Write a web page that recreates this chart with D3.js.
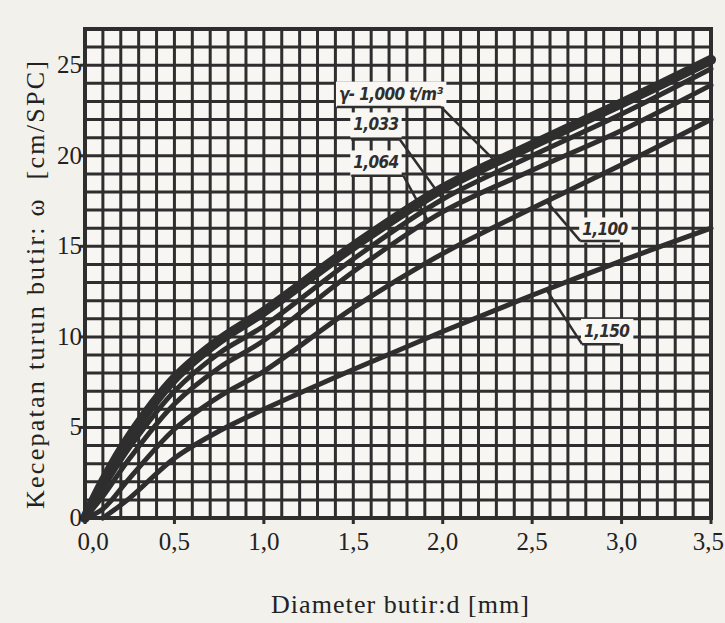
<!DOCTYPE html>
<html>
<head>
<meta charset="utf-8">
<script src="https://cdn.jsdelivr.net/npm/d3@7"></script>
<style>
  html, body { margin: 0; padding: 0; background: #f2f1ec; }
  svg { display: block; }
</style>
</head>
<body>
<svg id="chart" width="725" height="623"></svg>
<script>
// diameter (mm) where the curves were read
const diam = [0, 0.1, 0.25, 0.5, 0.75, 1.0, 1.5, 2.0, 2.5, 3.0, 3.5];

// settling velocity (cm/s) for each specific weight
const w1000 = [0, 2.0, 4.5, 7.7, 9.8, 11.4, 15.0, 18.2, 20.6, 22.9, 25.3];
const w1033 = [0, 1.6, 3.9, 7.0, 9.1, 10.6, 14.3, 17.6, 20.0, 22.3, 24.8];
const w1064 = [0, 1.2, 3.3, 6.3, 8.3, 9.8, 13.6, 16.9, 19.2, 21.4, 23.9];
const w1100 = [0, 0.5, 2.2, 4.9, 6.7, 8.1, 11.6, 14.6, 17.1, 19.5, 22.0];
const w1150 = [null, 0, 1.1, 3.3, 4.8, 6.0, 8.2, 10.3, 12.3, 14.2, 16.0];

const curveNames = ["γ- 1,000 t/m³", "1,033", "1,064", "1,100", "1,150"];
const xTicks = [0, 0.5, 1, 1.5, 2, 2.5, 3, 3.5];
const xTickLabels = ["0,0", "0,5", "1,0", "1,5", "2,0", "2,5", "3,0", "3,5"];
const yTicks = [0, 5, 10, 15, 20, 25];

const series = [w1000, w1033, w1064, w1100, w1150];
const widths = [10, 5, 5, 5, 5];

// where the label boxes sit (in data units) and where the leader hits the curve
const notes = [
  { text: curveNames[0], d: 1.42, v: 23.1, lineV: 22.7, lineEnd: 1.99, hit: 2.30 },
  { text: curveNames[1], d: 1.50, v: 21.4, lineV: 20.9, lineEnd: 1.76, hit: 2.00 },
  { text: curveNames[2], d: 1.50, v: 19.3, lineV: 18.9, lineEnd: 1.78, hit: 1.92 },
  { text: curveNames[3], d: 2.78, v: 15.6, lineV: 15.3, lineEnd: 2.99, hit: 2.58, left: true },
  { text: curveNames[4], d: 2.79, v: 10.0, lineV: 9.6, lineEnd: 2.99, hit: 2.58, left: true }
];

const svg = d3.select("#chart");
const x = d3.scaleLinear().domain([0, 3.5]).range([85, 711]);
const y = d3.scaleLinear().domain([0, 27]).range([518, 29]);
const ink = "#2e2e2e";

svg.append("rect")
  .attr("x", x(0)).attr("y", y(27))
  .attr("width", x(3.5) - x(0)).attr("height", y(0) - y(27))
  .attr("fill", "#f7f6f2");

// grid: 0.1 mm by 1 cm/s
const gx = d3.range(0, 36).map(i => i / 10);
const gy = d3.range(0, 28);
const grid = svg.append("g").attr("stroke", ink).attr("stroke-width", 3);
grid.selectAll(".gv").data(gx).enter().append("line")
  .attr("x1", d => x(d)).attr("x2", d => x(d))
  .attr("y1", y(0)).attr("y2", y(27));
grid.selectAll(".gh").data(gy).enter().append("line")
  .attr("y1", d => y(d)).attr("y2", d => y(d))
  .attr("x1", x(0)).attr("x2", x(3.5));

svg.append("rect")
  .attr("x", x(0)).attr("y", y(27))
  .attr("width", x(3.5) - x(0)).attr("height", y(0) - y(27))
  .attr("fill", "none").attr("stroke", ink).attr("stroke-width", 4);

// small ticks
svg.append("g").selectAll("line").data(xTicks).enter().append("line")
  .attr("x1", d => x(d)).attr("x2", d => x(d))
  .attr("y1", y(0)).attr("y2", y(0) + 6)
  .attr("stroke", ink).attr("stroke-width", 3);
svg.append("g").selectAll("line").data(yTicks).enter().append("line")
  .attr("x1", x(0) - 5).attr("x2", x(0))
  .attr("y1", d => y(d)).attr("y2", d => y(d))
  .attr("stroke", ink).attr("stroke-width", 3);

// curves
const line = d3.line()
  .x(d => x(d[0])).y(d => y(d[1]))
  .curve(d3.curveCatmullRom.alpha(0.5));

function points(s) {
  return diam.map((d, i) => [d, s[i]]).filter(p => p[1] !== null);
}

svg.append("g").selectAll("path")
  .data(series)
  .enter().append("path")
  .attr("d", s => line(points(s)))
  .attr("fill", "none")
  .attr("stroke", ink)
  .attr("stroke-width", (s, i) => widths[i])
  .attr("stroke-linecap", "round");

function valueAt(s, d) {
  for (let i = 1; i < diam.length; i++) {
    if (d <= diam[i]) {
      let a = s[i - 1] === null ? 0 : s[i - 1];
      let t = (d - diam[i - 1]) / (diam[i] - diam[i - 1]);
      return a + (s[i] - a) * t;
    }
  }
  return s[s.length - 1];
}

// label boxes + leaders
const lab = svg.append("g");
notes.forEach((n, i) => {
  const t = lab.append("text")
    .attr("x", x(n.d)).attr("y", y(n.v))
    .attr("font-family", "'DejaVu Sans Condensed', 'Liberation Sans Narrow', sans-serif")
    .attr("font-style", "italic").attr("font-weight", "bold")
    .attr("font-size", 17)
    .attr("letter-spacing", -0.6)
    .attr("fill", ink)
    .text(n.text);
  const bb = t.node().getBBox();
  lab.insert("rect", "text")
    .attr("x", bb.x - 3).attr("y", bb.y - 2)
    .attr("width", bb.width + 6).attr("height", bb.height + 5)
    .attr("fill", "#f8f7f3");
  const startX = n.left ? x(n.d) - 2 : x(n.lineEnd);
  const hv = valueAt(series[i], n.hit);
  lab.append("line")
    .attr("x1", x(n.d) - 2).attr("x2", x(n.lineEnd))
    .attr("y1", y(n.lineV)).attr("y2", y(n.lineV))
    .attr("stroke", ink).attr("stroke-width", 2.5);
  lab.append("line")
    .attr("x1", startX).attr("y1", y(n.lineV))
    .attr("x2", x(n.hit)).attr("y2", y(hv))
    .attr("stroke", ink).attr("stroke-width", 2.5);
});

// tick labels
const serif = "'Liberation Serif', 'DejaVu Serif', serif";
svg.append("g").selectAll("text").data(xTicks).enter().append("text")
  .attr("x", d => d == 0 ? x(d) + 8 : (d == 3.5 ? 724 : x(d)))
  .attr("y", 550)
  .attr("text-anchor", d => d == 3.5 ? "end" : "middle")
  .attr("font-family", serif).attr("font-size", 25).attr("fill", "#222")
  .text((d, i) => xTickLabels[i]);
svg.append("g").selectAll("text").data(yTicks).enter().append("text")
  .attr("x", 82).attr("y", d => y(d) + 8)
  .attr("text-anchor", "end")
  .attr("font-family", serif).attr("font-size", 25).attr("fill", "#222")
  .text(d => d);

svg.append("text")
  .attr("x", 400).attr("y", 613)
  .attr("text-anchor", "middle")
  .attr("font-family", serif).attr("font-size", 26).attr("fill", "#222")
  .attr("textLength", 258).attr("lengthAdjust", "spacing")
  .text("Diameter butir:d [mm]");

svg.append("text")
  .attr("transform", "translate(44,285) rotate(-90)")
  .attr("text-anchor", "middle")
  .attr("font-family", serif).attr("font-size", 26).attr("fill", "#222")
  .attr("textLength", 448).attr("lengthAdjust", "spacing")
  .attr("xml:space", "preserve")
  .text("Kecepatan turun butir: ω  [cm/SPC]");
</script>
</body>
</html>
